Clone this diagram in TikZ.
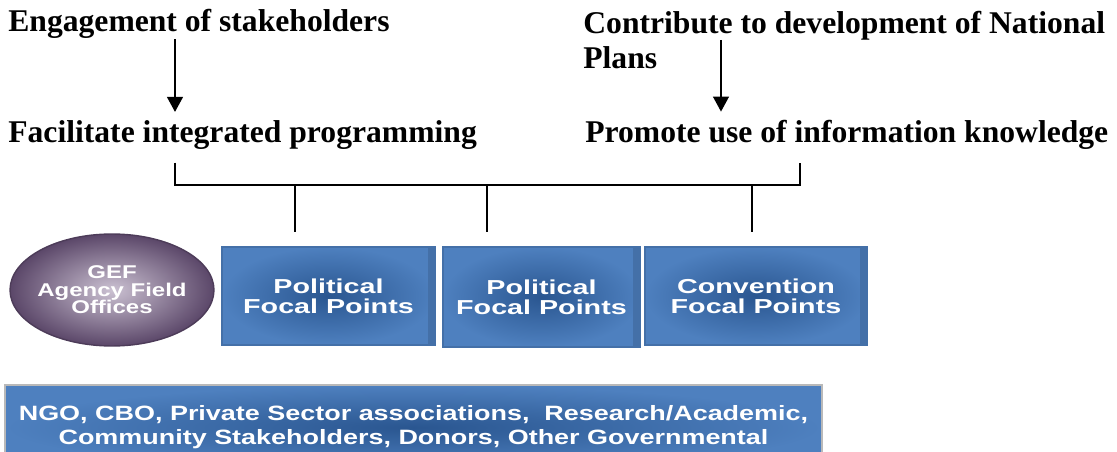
\documentclass[tikz,border=0pt]{standalone}
\usepackage{fontspec}
\setmainfont{Liberation Serif}
\newfontfamily\panelfont[FakeStretch=1.3]{Liberation Sans}
\newfontfamily\widefont[FakeStretch=1.42]{Liberation Sans}
\usetikzlibrary{arrows.meta,shapes.geometric}
\definecolor{panelblue}{HTML}{4E80BF}
\definecolor{paneldark}{HTML}{2A5690}
\definecolor{paneledge}{HTML}{4470A8}
\definecolor{gefpurple}{HTML}{5B4769}
\definecolor{geflight}{HTML}{CBC1D2}

\begin{document}
\begin{tikzpicture}[x=0.02cm,y=-0.02cm,
  heading/.style={font=\fontsize{18}{20}\selectfont\bfseries,inner sep=0pt,align=left},
  flow/.style={-{Triangle[width=9pt,length=8.5pt]},line width=0.9pt},
  bar/.style={line width=0.9pt},
  panel/.style={rectangle,inner color=paneldark,outer color=panelblue,draw=paneledge,line width=0.8pt,
    text=white,align=center,font=\widefont\bfseries\fontsize{11.5}{11.2}\selectfont,
    path picture={\fill[paneledge] ([xshift=-4pt]path picture bounding box.north east) rectangle (path picture bounding box.south east);}},
  band/.style={rectangle,inner color=paneldark,outer color=panelblue,draw=gray!55,line width=1.6pt,
    text=white,align=center,font=\panelfont\bfseries\fontsize{11.8}{13.7}\selectfont}]
\useasboundingbox (0,0) rectangle (1117,452);
\node[heading,anchor=base west] (engage) at (8,32) {Engagement of stakeholders};
\node[heading,anchor=north west] (contrib) at (583,11) {Contribute to development of National\\Plans};
\node[heading,anchor=base west] (facil) at (8,143) {Facilitate integrated programming};
\node[heading,anchor=base west] (promo) at (585,143) {Promote use of information knowledge};
\node[ellipse,minimum width=4.08cm,minimum height=2.24cm,inner xsep=-2pt,inner ysep=0pt,
  inner color=geflight,outer color=gefpurple,draw=gefpurple!85!black,line width=0.8pt,
  text=white,align=center,font=\panelfont\bfseries\fontsize{10.5}{10}\selectfont] (gef) at (112,290)
  {GEF\\Agency Field\\Offices};
\node[panel,minimum width=4.26cm,minimum height=1.96cm] (polA) at (328.5,296) {Political\\Focal Points};
\node[panel,minimum width=3.94cm,minimum height=2cm] (polB) at (541.5,297) {Political\\Focal Points};
\node[panel,minimum width=4.44cm,minimum height=1.96cm] (conv) at (756,296) {Convention\\Focal Points};
\node[band,minimum width=16.34cm,minimum height=1.7cm] (ngo) at (413.5,427.5)
  {NGO, CBO, Private Sector associations,\ \ Research/Academic,\\Community Stakeholders, Donors, Other Governmental};
\coordinate (a1) at (175,0);
\coordinate (a2) at (721,0);
\coordinate (bl) at (175,185);
\coordinate (br) at (800,185);
\coordinate (d1) at (295,232);
\coordinate (d2) at (487,232);
\coordinate (d3) at (752,232);
\draw[flow,shorten >=5pt] (engage.south -| a1) -- (facil.north -| a1);
\draw[flow,shorten <=16.5pt,shorten >=5pt] (contrib.north -| a2) -- (promo.north -| a2);
\draw[bar,shorten <=7pt,shorten >=7pt] (facil.south -| bl) -- (bl) -- (br) -- (promo.south -| br);
\draw[bar] (d1 |- bl) -- (d1);
\draw[bar] (d2 |- bl) -- (d2);
\draw[bar] (d3 |- bl) -- (d3);
\end{tikzpicture}
\end{document}
